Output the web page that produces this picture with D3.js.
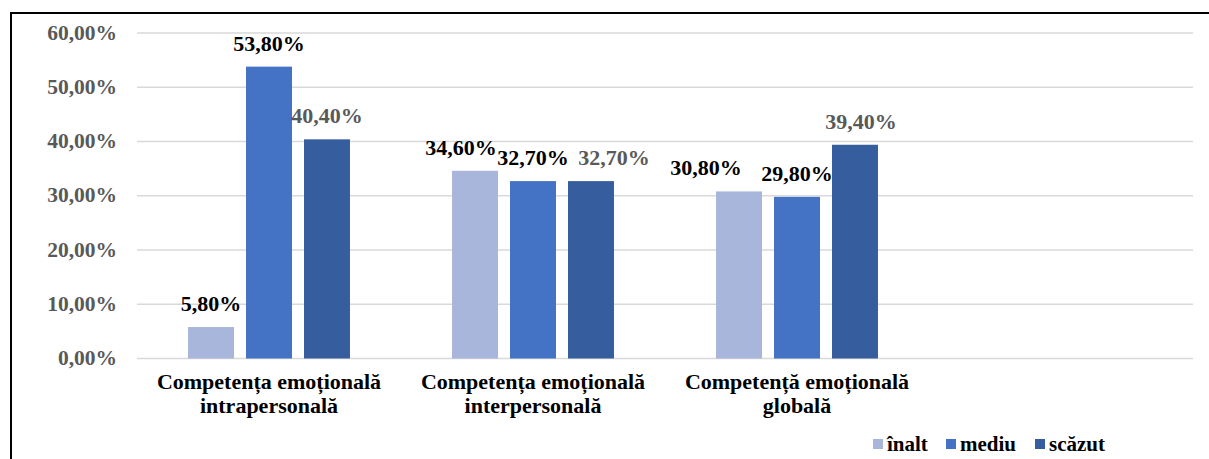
<!DOCTYPE html>
<html>
<head>
<meta charset="utf-8">
<script src="https://cdn.jsdelivr.net/npm/d3@7"></script>
<style>
  body { margin: 0; background: #fff; }
</style>
</head>
<body>
<div id="chart"></div>
<script>
var categories = [
    ["Competența emoțională", "intrapersonală"],
    ["Competența emoțională", "interpersonală"],
    ["Competență emoțională", "globală"],
    ["", ""]
];
var series = ["înalt", "mediu", "scăzut"];
var inalt = [5.8, 34.6, 30.8];
var mediu = [53.8, 32.7, 29.8];
var scazut = [40.4, 32.7, 39.4];
var yTicks = [0, 10, 20, 30, 40, 50, 60];
// label nudges as placed in the original chart
var labelShift = [[0, 0, 0], [-14, 0, 23], [-33, 0, 6]];

var colors = { "înalt": "#A9B6DB", "mediu": "#4472C4", "scăzut": "#365E9F" };
var labelColors = { "înalt": "#000", "mediu": "#000", "scăzut": "#595959" };
var FONT = "'Liberation Serif', 'Times New Roman', serif";

var W = 1209, H = 459;
var margin = { left: 137, right: 16, top: 33, bottom: 100 };

var svg = d3.select("#chart").append("svg").attr("width", W).attr("height", H)
    .style("font-family", FONT).style("font-weight", "bold");

// frame
svg.append("rect")
    .attr("x", 11).attr("y", 13)
    .attr("width", W + 20).attr("height", H + 20)
    .attr("fill", "none").attr("stroke", "#000").attr("stroke-width", 2);

var x0 = d3.scaleBand()
    .domain(d3.range(categories.length))
    .range([margin.left, W - margin.right]);

var y = d3.scaleLinear().domain([0, 60]).range([358.5, 33]);

var x1 = d3.scaleBand().domain(series)
    .range([0, x0.bandwidth()])
    .paddingInner(0.207).paddingOuter(0.88);

var pct = function (v) { return d3.format(".2f")(v).replace(".", ",") + "%"; };

// gridlines
svg.append("g").selectAll("line")
    .data(yTicks).enter().append("line")
    .attr("x1", margin.left).attr("x2", W - margin.right)
    .attr("y1", function (d) { return y(d); })
    .attr("y2", function (d) { return y(d); })
    .attr("stroke", "#D9D9D9").attr("stroke-width", 1.5);

// y labels
svg.append("g").selectAll("text")
    .data(yTicks).enter().append("text")
    .attr("x", 117)
    .attr("y", function (d) { return y(d) + 6.5; })
    .attr("text-anchor", "end")
    .style("font-size", "21.5px")
    .attr("fill", "#595959")
    .text(pct);

var data = [];
[inalt, mediu, scazut].forEach(function (vals, si) {
    vals.forEach(function (v, ci) {
        data.push({ s: series[si], si: si, c: ci, v: v });
    });
});

svg.append("g").selectAll("rect")
    .data(data).enter().append("rect")
    .attr("x", function (d) { return x0(d.c) + x1(d.s); })
    .attr("y", function (d) { return y(d.v); })
    .attr("width", x1.bandwidth())
    .attr("height", function (d) { return y(0) - y(d.v); })
    .attr("fill", function (d) { return colors[d.s]; });

svg.append("g").selectAll("text")
    .data(data).enter().append("text")
    .attr("x", function (d) { return x0(d.c) + x1(d.s) + x1.bandwidth() / 2 + labelShift[d.c][d.si]; })
    .attr("y", function (d) { return y(d.v) - 16; })
    .attr("text-anchor", "middle")
    .style("font-size", "22px")
    .attr("fill", function (d) { return labelColors[d.s]; })
    .text(function (d) { return pct(d.v); });

// category labels
var cat = svg.append("g").selectAll("g")
    .data(categories).enter().append("g");
cat.each(function (lines, i) {
    var g = d3.select(this);
    lines.forEach(function (t, k) {
        g.append("text")
            .attr("x", x0(i) + x0.bandwidth() / 2)
            .attr("y", 389 + k * 24)
            .attr("text-anchor", "middle")
            .style("font-size", "22px")
            .attr("fill", "#000")
            .text(t);
    });
});

// legend
var legX = [873, 946, 1035];
var leg = svg.append("g").selectAll("g")
    .data(series).enter().append("g")
    .attr("transform", function (d, i) { return "translate(" + legX[i] + ",439)"; });
leg.append("rect").attr("width", 10).attr("height", 10)
    .attr("fill", function (d) { return colors[d]; });
leg.append("text")
    .attr("x", 14).attr("y", 12)
    .style("font-size", "21px")
    .attr("fill", "#000")
    .text(function (d) { return d; });
</script>
</body>
</html>
